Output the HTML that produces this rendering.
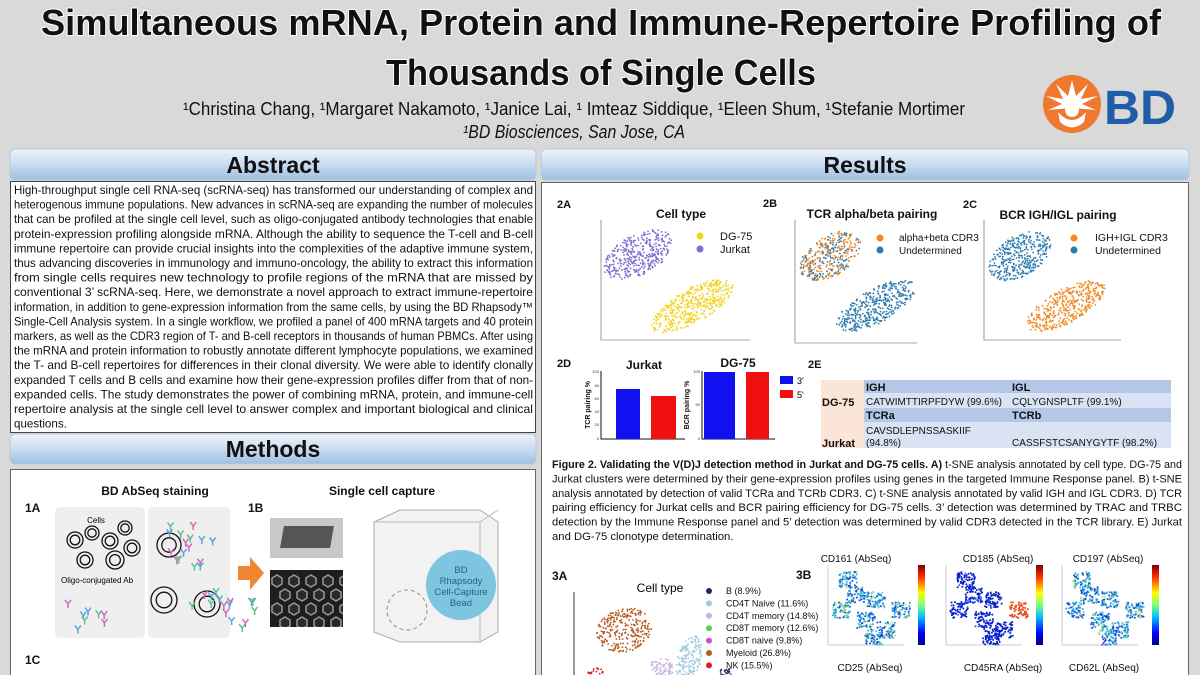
<!DOCTYPE html>
<html><head><meta charset="utf-8"><style>
html,body{margin:0;padding:0;background:#d9d9d9;}
svg{display:block;font-family:"Liberation Sans",sans-serif;}
</style></head><body>
<svg id="s" width="1200" height="675" viewBox="0 0 1200 675" xmlns="http://www.w3.org/2000/svg">
<defs>
<linearGradient id="hb" x1="0" y1="0" x2="0" y2="1"><stop offset="0" stop-color="#eef3fa"/><stop offset="0.5" stop-color="#c9dcf0"/><stop offset="1" stop-color="#9ebfe2"/></linearGradient>
<linearGradient id="jet" x1="0" y1="1" x2="0" y2="0"><stop offset="0" stop-color="#00007f"/><stop offset="0.15" stop-color="#0000ff"/><stop offset="0.35" stop-color="#00bfff"/><stop offset="0.5" stop-color="#7fff7f"/><stop offset="0.65" stop-color="#ffff00"/><stop offset="0.85" stop-color="#ff3000"/><stop offset="1" stop-color="#7f0000"/></linearGradient>
<clipPath id="hc"><rect x="270" y="570" width="73" height="57"/></clipPath>
</defs>
<rect width="1200" height="675" fill="#d9d9d9"/>
<g font-weight="bold" font-size="36" text-anchor="middle" fill="#111" stroke="#fff" stroke-width="2" paint-order="stroke">
<text x="601" y="35" textLength="1120" lengthAdjust="spacingAndGlyphs">Simultaneous mRNA, Protein and Immune-Repertoire Profiling of</text>
<text x="601" y="85" textLength="430" lengthAdjust="spacingAndGlyphs">Thousands of Single Cells</text>
</g>
<text x="574" y="115" font-size="18" text-anchor="middle" fill="#111" textLength="782" lengthAdjust="spacingAndGlyphs">¹Christina Chang, ¹Margaret Nakamoto, ¹Janice Lai, ¹ Imteaz Siddique, ¹Eleen Shum, ¹Stefanie Mortimer</text>
<text x="574" y="138" font-size="18" font-style="italic" text-anchor="middle" fill="#111" textLength="222" lengthAdjust="spacingAndGlyphs">¹BD Biosciences, San Jose, CA</text>
<circle cx="1072" cy="104" r="29" fill="#f0782d"/>
<g fill="#fff">
<polygon points="1072,80 1076,96 1088,84 1081,99 1098,96 1082,104 1096,110 1072,108 1048,110 1062,104 1046,96 1063,99 1056,84 1068,96"/>
<circle cx="1072" cy="110" r="7"/>
<path d="M1058 112 Q1072 128 1086 112 L1084 122 Q1072 133 1060 122Z"/>
</g>
<text x="1104" y="124" font-size="48" font-weight="bold" fill="#1f5da8" textLength="72" lengthAdjust="spacingAndGlyphs">BD</text>
<g stroke="#b8c8dc" stroke-width="1">
<rect x="10" y="149" width="526" height="31" rx="5" fill="url(#hb)"/>
<rect x="541" y="149" width="648" height="31" rx="5" fill="url(#hb)"/>
<rect x="10" y="434" width="526" height="30" rx="5" fill="url(#hb)"/>
</g>
<g font-size="23" font-weight="bold" text-anchor="middle" fill="#111">
<text x="273" y="173">Abstract</text><text x="865" y="173">Results</text><text x="273" y="457">Methods</text>
</g>
<rect x="10.5" y="181.5" width="525" height="251" fill="#fff" stroke="#444"/>
<rect x="10.5" y="469.5" width="525" height="215" fill="#fff" stroke="#666"/>
<rect x="541.5" y="182.5" width="647" height="500" fill="#fff" stroke="#666"/>
<g font-size="11.6" fill="#111" id="abs"></g>
<g font-size="12" font-weight="bold" fill="#111">
<text x="155" y="495" text-anchor="middle">BD AbSeq staining</text>
<text x="382" y="495" text-anchor="middle">Single cell capture</text>
<text x="25" y="512">1A</text><text x="248" y="512">1B</text><text x="25" y="664">1C</text>
</g>
<rect x="55" y="507" width="90" height="131" rx="5" fill="#efefef"/>
<rect x="148" y="507" width="82" height="131" rx="5" fill="#efefef"/>
<text x="96" y="523" font-size="8" text-anchor="middle">Cells</text>
<text x="97" y="583" font-size="8" text-anchor="middle">Oligo-conjugated Ab</text>
<g fill="none" stroke="#111" stroke-width="1.3" id="cells"></g>
<polygon points="238,566 250,566 250,557 264,573 250,590 250,580 238,580" fill="#f0872e"/>
<rect x="270" y="518" width="73" height="40" fill="#c8c8c8"/>
<rect x="282" y="526" width="50" height="22" fill="#555" transform="skewX(-10)" transform-origin="307 537"/>
<rect x="270" y="570" width="73" height="57" fill="#1e1e1e"/>
<g id="hex" clip-path="url(#hc)"></g>
<path d="M374 522 L400 510 L480 510 L498 522 L498 632 L480 642 L400 642 L374 632 Z" fill="#f2f2f2" stroke="#aaa"/>
<path d="M374 522 L480 522 L498 510 M480 522 L480 642" fill="none" stroke="#bbb"/>
<circle cx="461" cy="585" r="35" fill="#7ec6e0"/>
<g font-size="9.5" fill="#2a5d8a" text-anchor="middle"><text x="461" y="573">BD</text><text x="461" y="584">Rhapsody</text><text x="461" y="595">Cell-Capture</text><text x="461" y="606">Bead</text></g>
<circle cx="407" cy="610" r="20" fill="none" stroke="#a87" stroke-dasharray="4 3"/>
<g font-size="11" font-weight="bold" fill="#111">
<text x="557" y="208">2A</text><text x="763" y="207">2B</text><text x="963" y="208">2C</text>
<text x="557" y="367">2D</text><text x="808" y="368">2E</text>
</g>
<g font-size="12" font-weight="bold" fill="#111" text-anchor="middle">
<text x="681" y="218">Cell type</text><text x="872" y="218">TCR alpha/beta pairing</text><text x="1058" y="219">BCR IGH/IGL pairing</text>
<text x="644" y="369">Jurkat</text><text x="738" y="367">DG-75</text>
</g>
<g id="sc"></g>
<g font-size="11" fill="#111">
<circle cx="700" cy="236" r="3.5" fill="#f2d31b"/><text x="720" y="240">DG-75</text>
<circle cx="700" cy="249" r="3.5" fill="#7b6fd0"/><text x="720" y="253">Jurkat</text>
<circle cx="880" cy="238" r="3.5" fill="#f08a24"/><text x="899" y="241" font-size="10">alpha+beta CDR3</text>
<circle cx="880" cy="250" r="3.5" fill="#2e7bb0"/><text x="899" y="254" font-size="10">Undetermined</text>
<circle cx="1074" cy="238" r="3.5" fill="#f08a24"/><text x="1095" y="241" font-size="10.5">IGH+IGL CDR3</text>
<circle cx="1074" cy="250" r="3.5" fill="#2e7bb0"/><text x="1095" y="254" font-size="10.5">Undetermined</text>
</g>
<g stroke="#111" stroke-width="1" fill="none">
<path d="M601 371 V439 H685"/><path d="M702 371 V439 H775"/>
</g>
<rect x="616" y="389" width="24" height="50" fill="#1010f0"/>
<rect x="651" y="396" width="25" height="43" fill="#f01010"/>
<rect x="704" y="372" width="31" height="67" fill="#1010f0"/>
<rect x="746" y="372" width="23" height="67" fill="#f01010"/>
<rect x="780" y="376" width="13" height="8" fill="#1010f0"/><text x="797" y="384" font-size="9">3'</text>
<rect x="780" y="390" width="13" height="8" fill="#f01010"/><text x="797" y="398" font-size="9">5'</text>
<g font-size="7" font-weight="bold" fill="#111" text-anchor="middle">
<text transform="translate(590,405) rotate(-90)">TCR pairing %</text>
<text transform="translate(689,405) rotate(-90)">BCR pairing %</text>
</g>
<g font-size="4" fill="#333" text-anchor="end"><text x="599" y="373">100</text><text x="599" y="387">80</text><text x="599" y="400">60</text><text x="599" y="413">40</text><text x="599" y="426">20</text><text x="599" y="440">0</text><text x="700" y="373">100</text><text x="700" y="406">50</text><text x="700" y="440">0</text></g>
<rect x="821" y="380" width="43" height="68" fill="#fbe5d6"/>
<rect x="864" y="380" width="307" height="13" fill="#b4c7e7"/>
<rect x="864" y="393" width="307" height="15" fill="#dae3f3"/>
<rect x="864" y="408" width="307" height="14" fill="#b4c7e7"/>
<rect x="864" y="422" width="307" height="26" fill="#dae3f3"/>
<g font-size="11" fill="#111">
<text x="822" y="406" font-weight="bold">DG-75</text><text x="822" y="447" font-weight="bold">Jurkat</text>
<text x="866" y="391" font-weight="bold">IGH</text><text x="1012" y="391" font-weight="bold">IGL</text>
<text x="866" y="419" font-weight="bold">TCRa</text><text x="1012" y="419" font-weight="bold">TCRb</text>
<text x="866" y="405" font-size="10">CATWIMTTIRPFDYW (99.6%)</text><text x="1012" y="405" font-size="10">CQLYGNSPLTF (99.1%)</text>
<text x="866" y="434" font-size="10">CAVSDLEPNSSASKIIF</text><text x="866" y="446" font-size="10">(94.8%)</text>
<text x="1012" y="446" font-size="10">CASSFSTCSANYGYTF (98.2%)</text>
</g>
<g font-size="11.3" fill="#111" id="cap">
<text x="552" y="468" textLength="630" lengthAdjust="spacingAndGlyphs"><tspan font-weight="bold">Figure 2. Validating the V(D)J detection method in Jurkat and DG-75 cells. A)</tspan> t-SNE analysis annotated by cell type. DG-75 and</text>
</g>
<g font-size="12" font-weight="bold" fill="#111"><text x="552" y="580">3A</text><text x="796" y="579">3B</text></g>
<text x="660" y="592" font-size="12" text-anchor="middle">Cell type</text>
<g font-size="9" fill="#111" id="leg3"></g>
<path d="M574 592 V675" stroke="#333" fill="none"/>
<g font-size="10" fill="#111" text-anchor="middle">
<text x="856" y="562">CD161 (AbSeq)</text><text x="998" y="562">CD185 (AbSeq)</text><text x="1108" y="562">CD197 (AbSeq)</text>
<text x="870" y="671">CD25 (AbSeq)</text><text x="1003" y="671">CD45RA (AbSeq)</text><text x="1104" y="671">CD62L (AbSeq)</text>
</g>
<g id="hm"></g>
</svg>
<script>
var NS="http://www.w3.org/2000/svg",S=1;function R(){S=(S*16807)%2147483647;return S/2147483647;}
function el(p,t,a,txt){var e=document.createElementNS(NS,t);for(var k in a)e.setAttribute(k,a[k]);if(txt!=null)e.textContent=txt;document.getElementById(p).appendChild(e);return e;}
function jl(p,lines,x,y0,dy,w,last){lines.forEach(function(l,i){var a={x:x,y:y0+i*dy};if(!(last&&i==lines.length-1)){a.textLength=w;a.lengthAdjust="spacingAndGlyphs";}el(p,"text",a,l);});}
jl("abs",["High-throughput single cell RNA-seq (scRNA-seq) has transformed our understanding of complex and","heterogenous immune populations. New advances in scRNA-seq are expanding the number of molecules","that can be profiled at the single cell level, such as  oligo-conjugated antibody technologies that enable","protein-expression profiling alongside mRNA. Although the ability to sequence the T-cell and B-cell","immune repertoire can provide crucial insights into the complexities of the adaptive immune system,","thus advancing discoveries in immunology and immuno-oncology, the ability to extract this information","from single cells requires new technology to profile regions of the mRNA that are missed by","conventional 3’ scRNA-seq. Here, we demonstrate a novel approach to extract immune-repertoire","information, in addition to gene-expression information from the same cells, by using the BD Rhapsody™","Single-Cell Analysis system. In a single workflow, we profiled a panel of 400 mRNA targets and 40 protein","markers, as well as the CDR3 region of T- and B-cell receptors in thousands of human PBMCs. After using","the mRNA and protein information to robustly annotate different lymphocyte populations, we examined","the T- and B-cell repertoires for differences in their clonal diversity. We were able to identify clonally","expanded T cells and B cells and examine how their gene-expression profiles differ from that of non-","expanded cells. The study demonstrates the power of combining mRNA, protein, and immune-cell","repertoire analysis at the single cell level to answer complex and important biological and clinical","questions."],14,194,14.6,519,true);
jl("cap",["Jurkat clusters were determined by their gene-expression profiles using genes in the targeted Immune Response panel. B) t-SNE","analysis annotated by detection of valid TCRa and TCRb CDR3. C) t-SNE analysis annotated by valid IGH and IGL CDR3. D) TCR","pairing efficiency for Jurkat cells and BCR pairing efficiency for DG-75 cells. 3’ detection was determined by TRAC and TRBC","detection by the Immune Response panel and 5’ detection was determined by valid CDR3 detected in the TCR library. E) Jurkat","and DG-75 clonotype determination."],552,482.4,14.4,630,true);
[[75,540,8],[92,533,7],[110,541,8],[125,528,7],[132,548,8],[85,560,8],[115,560,9],[169,545,12],[164,600,13],[207,604,13]].forEach(function(c){el("cells","circle",{cx:c[0],cy:c[1],r:c[2]});el("cells","circle",{cx:c[0],cy:c[1],r:c[2]*0.6});});
var abc=["#d46ab8","#5fc28a","#5aa6d8"];for(var i=0;i<40;i++){var cx=[68,160,190,175,215][i%5]+R()*40,cy=[600,525,590,540,600][i%5]+R()*30;el("cells","path",{d:"M"+cx+" "+cy+"l3 -4m-3 4l-3 -4m3 4v4",stroke:abc[i%3],"stroke-width":1.5});}
for(var r=0;r<4;r++)for(var c=0;c<5;c++){var x=272+c*17+(r%2)*8,y=575+r*14;el("hex","polygon",{points:[x+5,y,x+10,y+3,x+10,y+9,x+5,y+12,x,y+9,x,y+3].join(" "),fill:"#2a2a2a",stroke:"#999","stroke-width":1.5});}
function cl(g,cx,cy,a,b,ang,n,col){for(var i=0;i<n;i++){var u=R()*2-1,v=R()*2-1;if(u*u+v*v>1){i--;continue;}var x=u*a,y=v*b,cs=Math.cos(ang),sn=Math.sin(ang);el(g,"circle",{cx:cx+x*cs-y*sn,cy:cy+x*sn+y*cs,r:0.9,fill:typeof col=="function"?col():col});}}
function ax(x0,x1,y0,y1){el("sc","path",{d:"M"+x0+" "+y0+"V"+y1+"H"+x1,stroke:"#555",fill:"none","stroke-width":0.6});}
ax(601,750,220,340);ax(795,917,220,343);ax(984,1121,220,340);
cl("sc",638,255,38,20,-0.5,380,"#7b6fd0");cl("sc",692,306,46,17,-0.5,450,"#f2d31b");
cl("sc",830,256,34,20,-0.55,380,function(){return R()<0.55?"#f08a24":"#2e7bb0";});cl("sc",876,306,44,17,-0.5,420,"#2e7bb0");
cl("sc",1020,256,34,20,-0.55,380,"#2e7bb0");cl("sc",1066,306,44,17,-0.5,420,"#f08a24");
[["#1f2a5c","B (8.9%)"],["#9ecae1","CD4T Naive (11.6%)"],["#c6b3dd","CD4T memory (14.8%)"],["#5ed14a","CD8T memory (12.6%)"],["#c955c4","CD8T naive (9.8%)"],["#b5581f","Myeloid (26.8%)"],["#d42020","NK (15.5%)"]].forEach(function(d,i){el("leg3","circle",{cx:709,cy:591+i*12.4,r:3,fill:d[0]});el("leg3","text",{x:726,y:594+i*12.4},d[1]);});
cl("sc",624,630,28,22,-0.3,280,"#b5581f");cl("sc",689,660,12,25,0.3,170,"#9ecae1");cl("sc",662,668,12,10,0.5,80,"#c6b3dd");cl("sc",596,672,8,4,0,20,"#d42020");cl("sc",726,672,6,4,0,20,"#1f2a5c");
[[826,565],[944,565],[1060,565]].forEach(function(p,k){var x=p[0],y=p[1];el("hm","path",{d:"M"+(x+2)+" "+y+"V"+(y+80)+"H"+(x+78),stroke:"#999",fill:"none","stroke-width":0.5});el("hm","rect",{x:x+92,y:y,width:7,height:80,fill:"url(#jet)"});
var cs=[[x+22,y+15],[x+50,y+35],[x+15,y+45],[x+40,y+55],[x+60,y+65],[x+75,y+45],[x+30,y+30],[x+48,y+72]];cs.forEach(function(c,j){for(var i=0;i<70;i++){var col;var q=R();if(k==1)col=(j==5?"#e8501a":q<0.85?"#0a1fc8":"#2a60ff");else col=q<0.35?"#1a4ad8":q<0.7?"#2aa0e8":q<0.9?"#50d0d0":"#c8e040";el("hm","circle",{cx:c[0]+(R()-0.5)*18,cy:c[1]+(R()-0.5)*16,r:1,fill:col});}});});
</script>
</body></html>
